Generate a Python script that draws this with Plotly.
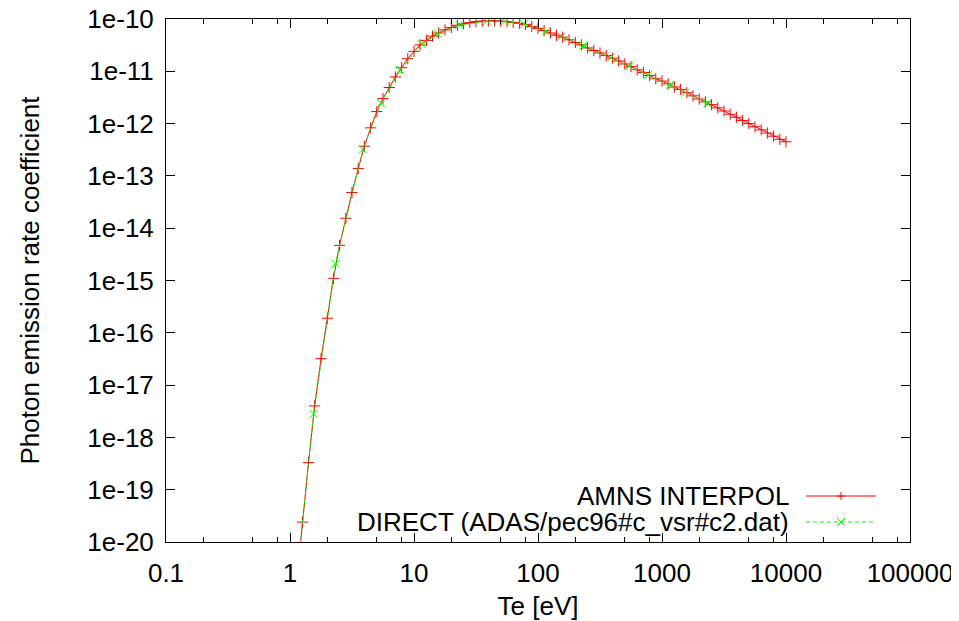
import plotly.graph_objects as go

# AMNS INTERPOL (red, +)
amns_te = [1.12, 1.26, 1.41, 1.58, 1.78, 2.0, 2.24, 2.51, 2.82, 3.16,
           3.55, 3.98, 4.47, 5.01, 5.62, 6.31, 7.08, 7.94, 8.91, 10.0,
           11.2, 12.6, 14.1, 15.8, 17.8, 20.0, 22.4, 25.1, 28.2, 31.6,
           35.5, 39.8, 44.7, 50.1, 56.2, 63.1, 70.8, 79.4, 89.1, 100.0,
           112, 126, 141, 158, 178, 200, 224, 251, 282, 316,
           355, 398, 447, 501, 562, 631, 708, 794, 891, 1000,
           1122, 1259, 1413, 1585, 1778, 1995, 2239, 2512, 2818, 3162,
           3548, 3981, 4467, 5012, 5623, 6310, 7079, 7943, 8913, 10000]
amns_pec = [1.3e-21, 2.4e-20, 3.3e-19, 4.0e-18, 3.2e-17, 1.9e-16, 1.1e-15, 4.7e-15, 1.55e-14, 4.8e-14,
            1.38e-13, 3.7e-13, 8.3e-13, 1.7e-12, 3.0e-12, 4.9e-12, 7.8e-12, 1.17e-11, 1.74e-11, 2.4e-11,
            3.2e-11, 3.9e-11, 4.7e-11, 5.4e-11, 6.2e-11, 6.9e-11, 7.6e-11, 8.1e-11, 8.5e-11, 8.9e-11,
            9.1e-11, 9.2e-11, 9.2e-11, 9.1e-11, 8.9e-11, 8.6e-11, 8.3e-11, 7.9e-11, 7.2e-11, 6.6e-11,
            6.0e-11, 5.4e-11, 4.9e-11, 4.5e-11, 4.0e-11, 3.55e-11, 3.2e-11, 2.8e-11, 2.5e-11, 2.24e-11,
            2.0e-11, 1.78e-11, 1.58e-11, 1.38e-11, 1.23e-11, 1.07e-11, 9.5e-12, 8.3e-12, 7.2e-12, 6.5e-12,
            5.75e-12, 5.0e-12, 4.5e-12, 3.9e-12, 3.4e-12, 2.95e-12, 2.6e-12, 2.3e-12, 2.0e-12, 1.74e-12,
            1.51e-12, 1.32e-12, 1.15e-12, 1.0e-12, 8.7e-13, 7.6e-13, 6.6e-13, 5.75e-13, 5.0e-13, 4.5e-13]

# DIRECT (green, x)
direct_te = [1.16, 1.55, 2.32, 3.87, 5.42, 7.74, 11.6, 15.5, 23.2, 38.7,
             54.2, 77.4, 116, 155, 232, 387, 542, 774, 1160, 1550, 2320]
direct_pec = [3.5e-21, 2.8e-18, 2.1e-15, 3.2e-13, 2.5e-12, 1.05e-11, 3.3e-11, 5.2e-11, 7.7e-11, 9.1e-11,
              9.0e-11, 8.0e-11, 5.8e-11, 4.6e-11, 3.1e-11, 1.82e-11, 1.26e-11, 8.5e-12, 5.5e-12, 3.9e-12, 2.45e-12]

x_tickvals = [0.1, 1, 10, 100, 1000, 10000, 100000]
x_ticktext = ["0.1", "1", "10", "100", "1000", "10000", "100000"]
x_minor = [m * d for d in [0.1, 1, 10, 100, 1000, 10000] for m in (2, 5, 8)]
y_tickvals = [1e-20, 1e-19, 1e-18, 1e-17, 1e-16, 1e-15, 1e-14, 1e-13, 1e-12, 1e-11, 1e-10]
y_ticktext = ["1e-20", "1e-19", "1e-18", "1e-17", "1e-16", "1e-15", "1e-14", "1e-13", "1e-12", "1e-11", "1e-10"]

label_amns = "AMNS INTERPOL"
label_direct = "DIRECT (ADAS/pec96#c_vsr#c2.dat)"

RED = "#ff0000"
GREEN = "#00ff00"
FONT = "Liberation Sans, Arial, sans-serif"
FS = 26

fig = go.Figure()
fig.add_trace(go.Scatter(
    x=amns_te, y=amns_pec, mode="lines+markers", name=label_amns,
    line=dict(color=RED, width=1),
    marker=dict(symbol="cross-thin", size=8, line=dict(color=RED, width=1)),
    showlegend=False))
fig.add_trace(go.Scatter(
    x=direct_te, y=direct_pec, mode="lines+markers", name=label_direct,
    line=dict(color=GREEN, width=1, dash="4px,3px"),
    marker=dict(symbol="x-thin", size=8, line=dict(color=GREEN, width=1)),
    showlegend=False))

# page body has an 8px margin; the figure is sized/offset to compensate
OFF = 8
W, H = 959 - OFF, 621 - OFF
L, R, T, B = 166 - OFF, 49, 19 - OFF, 79
pw = W - L - R
ph = H - T - B

def px(xp):
    return (xp - OFF - L) / pw

def py(yp):
    return 1 - (yp - OFF - T) / ph

# custom gnuplot-style key (text left, sample right)
shapes = []
annotations = []
rows = [(label_amns, RED, 496, "solid", "plus"), (label_direct, GREEN, 522, "4px,3px", "x")]
for text, col, yrow, dash, mk in rows:
    annotations.append(dict(x=px(791), y=py(yrow), xref="paper", yref="paper", text=text,
                            showarrow=False, xanchor="right", yanchor="middle",
                            font=dict(family=FONT, size=FS, color="black")))
    shapes.append(dict(type="line", xref="paper", yref="paper", x0=px(806), x1=px(876),
                       y0=py(yrow), y1=py(yrow), line=dict(color=col, width=1, dash=dash)))
    cx, cy, a = 841, yrow, 4
    if mk == "plus":
        shapes.append(dict(type="line", xref="paper", yref="paper", x0=px(cx - a), x1=px(cx + a),
                           y0=py(cy), y1=py(cy), line=dict(color=col, width=1)))
        shapes.append(dict(type="line", xref="paper", yref="paper", x0=px(cx), x1=px(cx),
                           y0=py(cy - a), y1=py(cy + a), line=dict(color=col, width=1)))
    else:
        shapes.append(dict(type="line", xref="paper", yref="paper", x0=px(cx - a), x1=px(cx + a),
                           y0=py(cy - a), y1=py(cy + a), line=dict(color=col, width=1)))
        shapes.append(dict(type="line", xref="paper", yref="paper", x0=px(cx - a), x1=px(cx + a),
                           y0=py(cy + a), y1=py(cy - a), line=dict(color=col, width=1)))

fig.update_layout(
    width=W, height=H,
    margin=dict(l=L, r=R, t=T, b=B, autoexpand=False),
    paper_bgcolor="white", plot_bgcolor="white",
    font=dict(family=FONT, size=FS, color="black"),
    shapes=shapes, annotations=annotations,
    showlegend=False,
)
fig.update_xaxes(
    type="log", range=[-1, 5], tickmode="array", tickvals=x_tickvals, ticktext=x_ticktext,
    ticks="inside", ticklen=9, tickwidth=1, tickcolor="black",
    minor=dict(tickmode="array", tickvals=x_minor, ticks="inside", ticklen=5, tickwidth=1,
               tickcolor="black", showgrid=False),
    showline=True, linecolor="black", linewidth=1, mirror="allticks",
    showgrid=False, zeroline=False, automargin=False,
    ticklabelstandoff=8, ticklabeloverflow="allow",
    title=dict(text="Te [eV]", standoff=12, font=dict(family=FONT, size=FS)),
)
fig.update_yaxes(
    type="log", range=[-20, -10], tickmode="array", tickvals=y_tickvals, ticktext=y_ticktext,
    ticks="inside", ticklen=9, tickwidth=1, tickcolor="black",
    showline=True, linecolor="black", linewidth=1, mirror="allticks",
    showgrid=False, zeroline=False, automargin=False,
    ticklabelstandoff=6, ticklabeloverflow="allow",
    title=dict(text="Photon emission rate coefficient", standoff=40, font=dict(family=FONT, size=FS)),
)

fig.write_html("out.html")
